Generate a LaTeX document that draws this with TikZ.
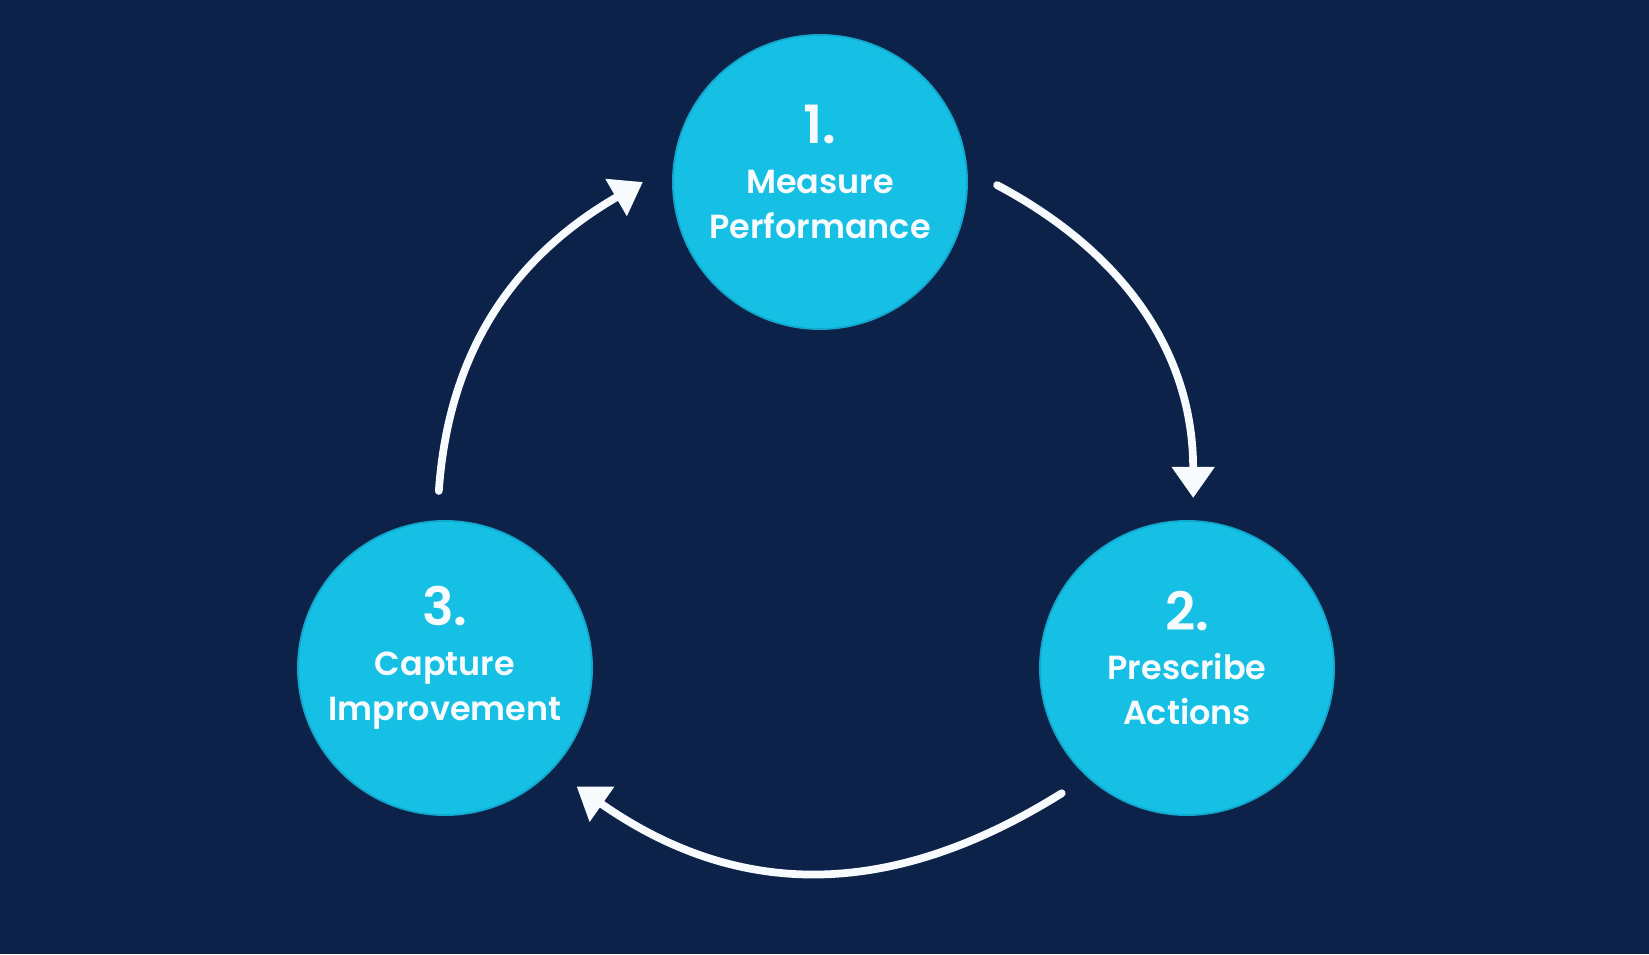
\documentclass[tikz,border=0pt]{standalone}
\usepackage{fontspec}
\setsansfont{Poppins}[BoldFont={Poppins SemiBold}]
\usetikzlibrary{arrows.meta, calc}
\definecolor{navy}{HTML}{0C2249}
\definecolor{stagefill}{HTML}{16C0E5}
\definecolor{stagerim}{HTML}{12A6CC}
\definecolor{labelwhite}{HTML}{F7FBFD}
\newcommand{\stagenum}[1]{{\fontsize{15pt}{15pt}\selectfont #1}}

\begin{document}
\begin{tikzpicture}[
  x=0.01cm, y=0.01cm,
  stage/.style={circle, draw=stagerim, line width=0.5pt, fill=stagefill,
                minimum size=2.94cm, inner sep=0pt, outer sep=0.3cm},
  stagetext/.style={text=labelwhite, align=center, inner sep=0pt,
                    font=\sffamily\bfseries\fontsize{9.5pt}{12.8pt}\selectfont},
  arr/.style={-{Triangle[length=0.31cm, width=0.41cm]}, line width=2.2pt,
              labelwhite, line cap=round}
]
  \fill[navy] (0,0) rectangle (1649,954);

  \node[stage] (m) at (820,772) {};
  \node[stage] (p) at (1187,286) {};
  \node[stage] (c) at (445,286) {};

  \node[stagetext] (mt) at ([yshift=0.1cm]m.center) {\stagenum{1.}\\[1.4pt]Measure\\Performance};
  \node[stagetext] (pt) at ([yshift=0.1cm]p.center) {\stagenum{2.}\\[1.4pt]Prescribe\\Actions};
  \node[stagetext] (ct) at ([yshift=0.1cm]c.center) {\stagenum{3.}\\[1.4pt]Capture\\Improvement};

  \draw[arr] (m.-1) to[out=-28, in=90] ([yshift=-0.07cm]p.88);
  \draw[arr] (p.225) to[out=212, in=-35, looseness=1.05] (c.-42);
  \draw[arr] (c.92) to[out=86, in=210] (m.180);
\end{tikzpicture}
\end{document}
